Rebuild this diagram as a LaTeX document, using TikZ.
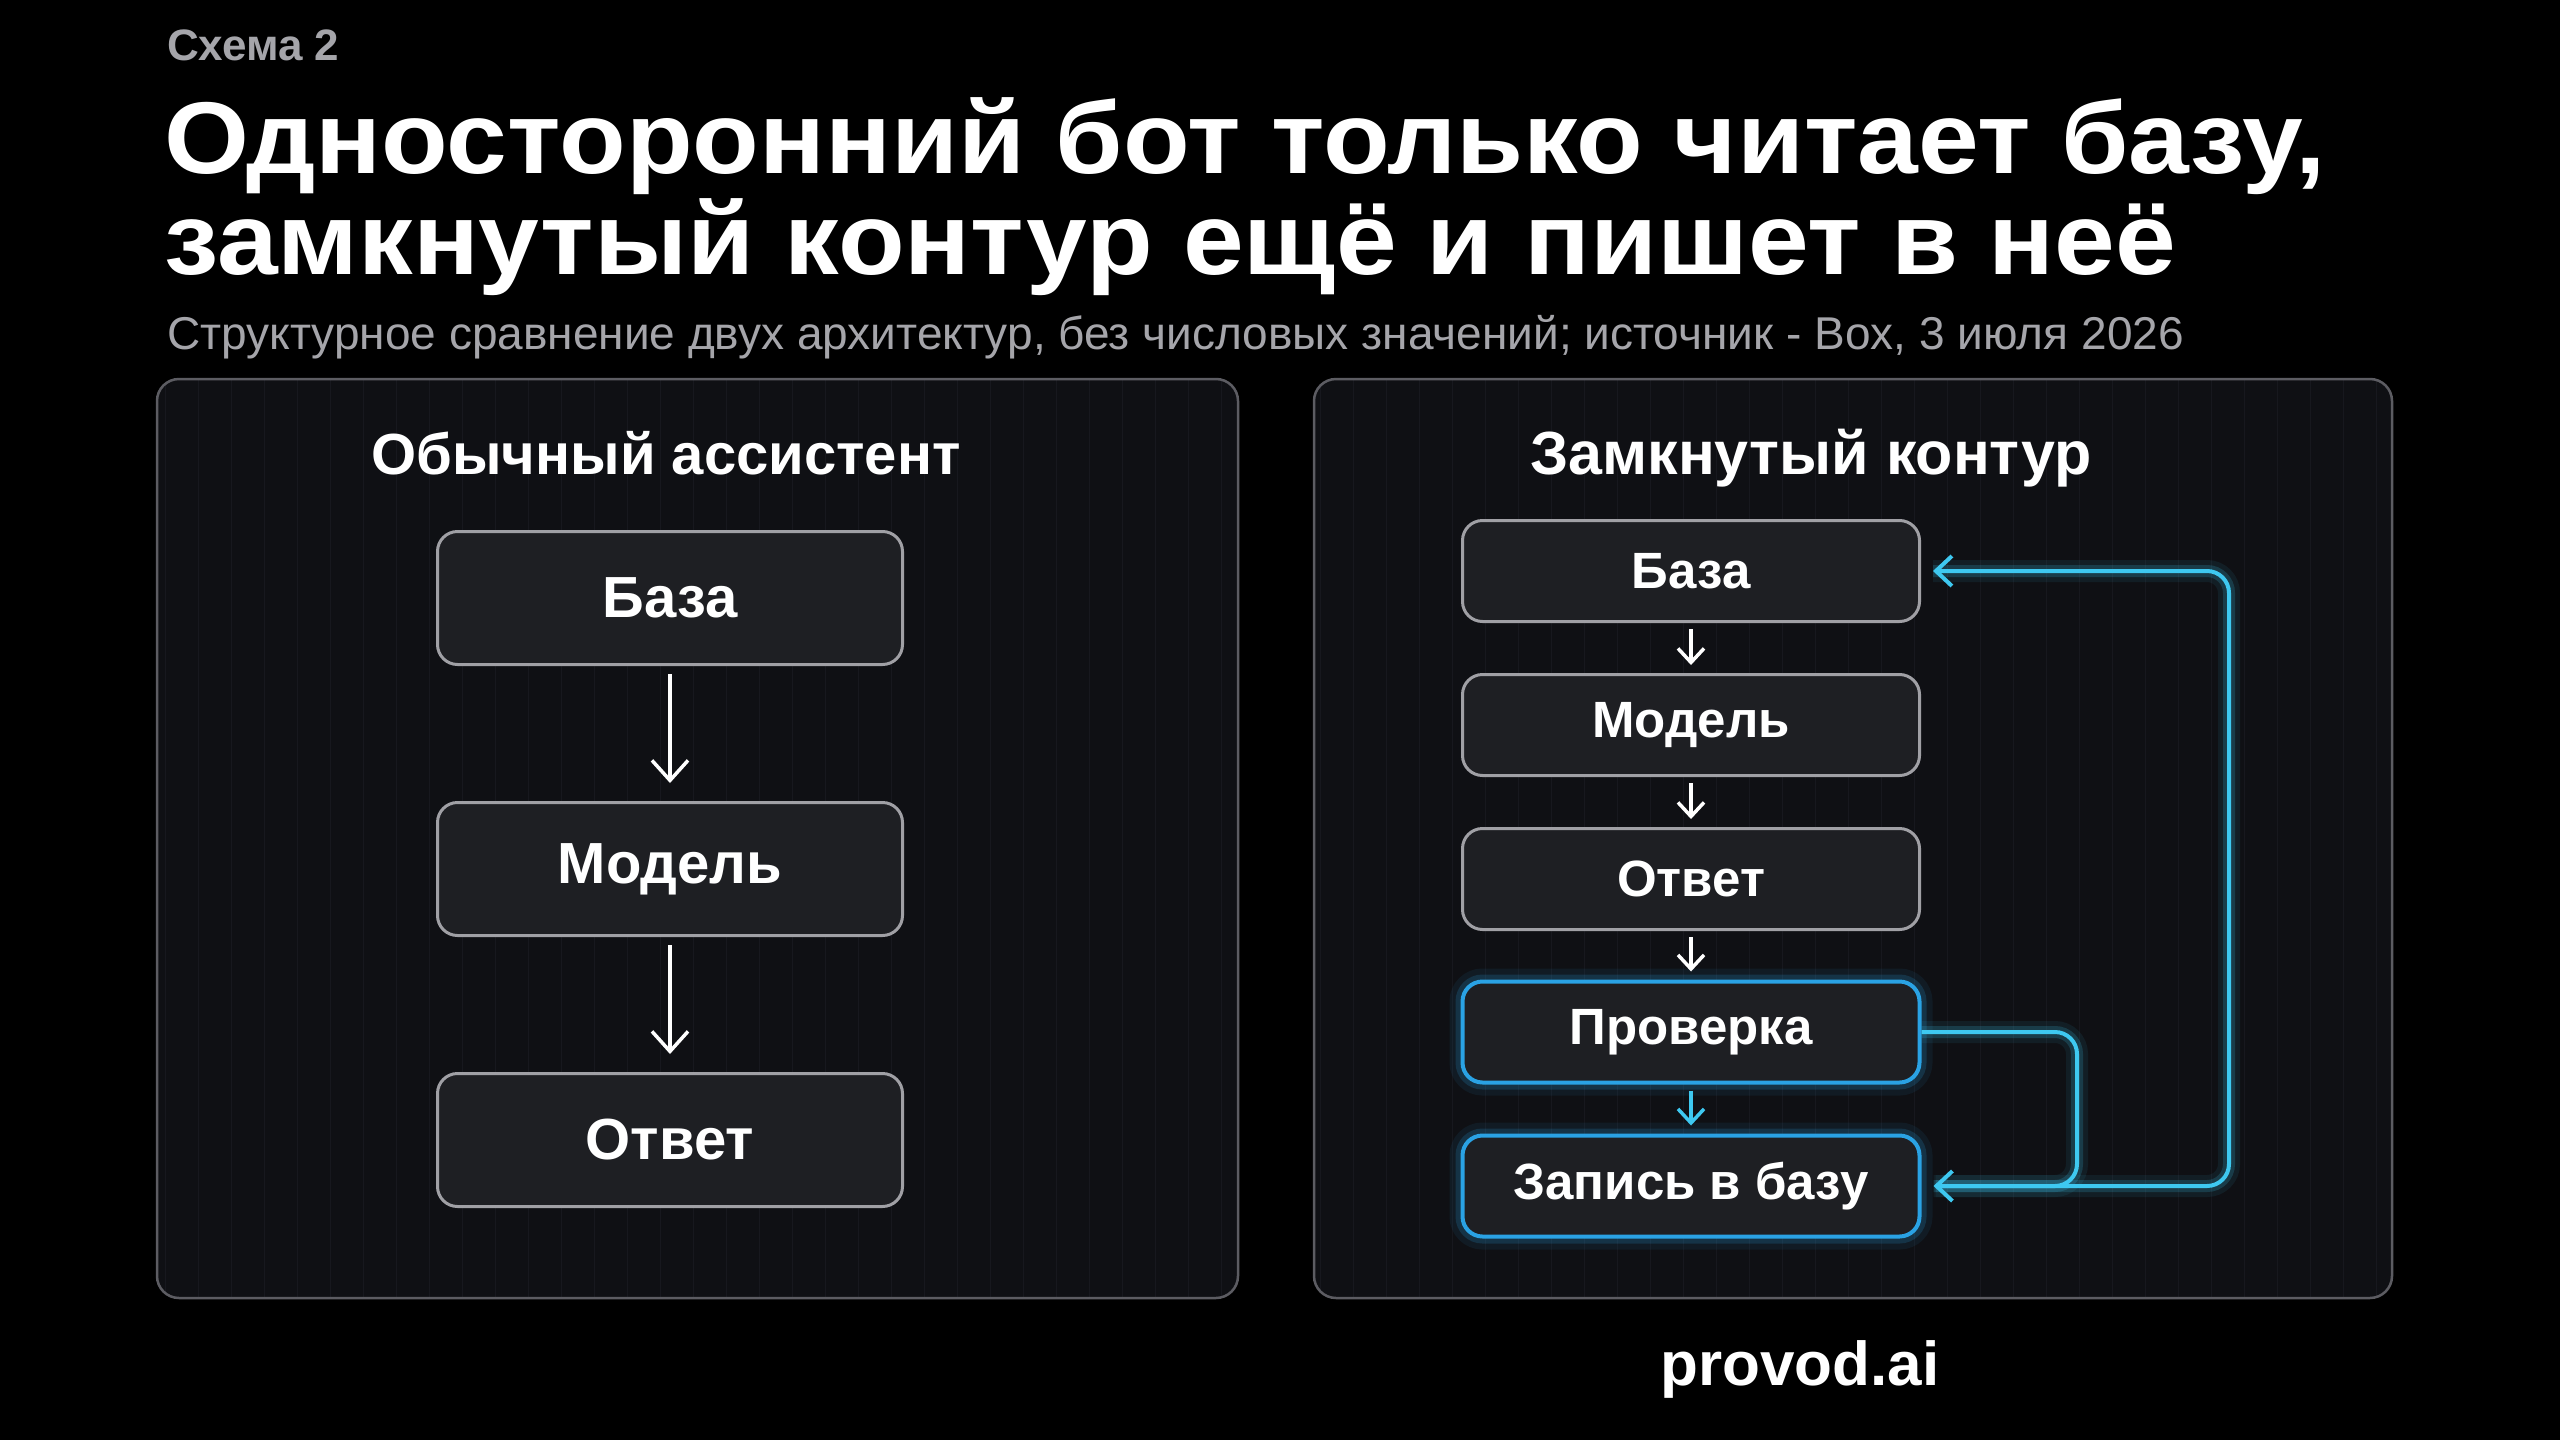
\documentclass[tikz,border=0pt]{standalone}
\usepackage{fontspec}
\setmainfont{Liberation Sans}
\newfontfamily\wideface[FakeStretch=1.07]{Liberation Sans}
\usepackage{tikz}
\usetikzlibrary{arrows.meta,calc,positioning}
\definecolor{fondoPanel}{RGB}{15,16,20}
\definecolor{bordePanel}{RGB}{92,92,98}
\definecolor{rejilla}{RGB}{23,24,30}
\definecolor{fondoCaja}{RGB}{30,31,35}
\definecolor{bordeCaja}{RGB}{160,160,165}
\definecolor{azulNeon}{RGB}{42,162,228}
\definecolor{cianNeon}{RGB}{62,200,240}
\definecolor{grisTexto}{RGB}{165,165,170}
\tikzstyle{heading}=[anchor=base west, inner sep=0pt, text=white,
                     font=\wideface\fontsize{102}{102}\selectfont\bfseries]
\tikzstyle{panel}  =[draw=bordePanel, line width=2.5pt, rounded corners=22pt]
\tikzstyle{box}    =[draw=bordeCaja, fill=fondoCaja, line width=3pt,
                     rounded corners=20pt, text=white,
                     minimum width=465pt, minimum height=133pt,
                     font=\fontsize{58}{58}\selectfont\bfseries]
\tikzstyle{boxsm}  =[box, minimum width=457pt, minimum height=101pt,
                     font=\fontsize{51}{51}\selectfont\bfseries]
\tikzstyle{neon}   =[draw=azulNeon, line width=4pt,
                     preaction={draw=azulNeon, line width=26pt, opacity=0.08},
                     preaction={draw=azulNeon, line width=14pt, opacity=0.18}]
\tikzstyle{edge}   =[white, line width=3.5pt, shorten <=8pt, shorten >=18pt,
                     -{Straight Barb[length=20pt,width=36pt]}]
\tikzstyle{edgesm} =[white, line width=3.5pt, shorten <=6pt, shorten >=8pt,
                     -{Straight Barb[length=14pt,width=26pt]}]
\tikzstyle{loop}   =[cianNeon, line width=4pt, rounded corners=22pt,
                     -{Straight Barb[length=16pt,width=30pt]},
                     preaction={draw=cianNeon, -, line width=22pt, opacity=0.08},
                     preaction={draw=cianNeon, -, line width=12pt, opacity=0.18}]

\begin{document}
\begin{tikzpicture}[x=1pt,y=-1pt]
    \fill[black] (0,0) rectangle (2560,1440);
    \useasboundingbox (0,0) rectangle (2560,1440);

    \draw (167,60) node(kicker)[anchor=base west, inner sep=0pt, text=grisTexto,
          font=\fontsize{44}{44}\selectfont\bfseries]{Схема 2};
    \draw (164,173) node(t1)[heading]{Односторонний бот только читает базу,};
    \draw (164,274) node(t2)[heading]{замкнутый контур ещё и пишет в неё};
    \draw (167,349) node(sub)[anchor=base west, inner sep=0pt, text=grisTexto,
          font=\fontsize{46}{46}\selectfont]{Структурное сравнение двух архитектур, без числовых значений; источник - Box, 3 июля 2026};

    % paneles con rejilla
    \foreach \xa/\xb in {157/1238,1314/2392}{
        \fill[fondoPanel, rounded corners=22pt] (\xa,379) rectangle (\xb,1298);
        \begin{scope}
            \clip[rounded corners=22pt] (\xa,379) rectangle (\xb,1298);
            \draw[rejilla, line width=1pt, step=33] (\xa,379) grid (\xb,1298);
        \end{scope}
        \draw[panel] (\xa,379) rectangle (\xb,1298);
    }

    \begin{scope}
        \draw (666,474) node(h1)[anchor=base, inner sep=0pt, text=white,
              font=\fontsize{58}{58}\selectfont\bfseries]{Обычный ассистент};
        \draw (670,598) node(a1)[box]{База};
        \draw (670,869) node(a2)[box]{Модель};
        \draw (670,1140) node(a3)[box]{Ответ};

        \foreach \i/\j in {a1/a2,a2/a3}
            \draw [edge] (\i) to (\j);
    \end{scope}

    \begin{scope}
        \draw (1811,474) node(h2)[anchor=base, inner sep=0pt, text=white,
              font=\fontsize{61}{61}\selectfont\bfseries]{Замкнутый контур};
        \draw (1691,571) node(b1)[boxsm]{База};
        \draw (1691,725) node(b2)[boxsm]{Модель};
        \draw (1691,879) node(b3)[boxsm]{Ответ};
        \draw (1691,1032) node(b4)[boxsm,neon]{Проверка};
        \draw (1691,1186) node(b5)[boxsm,neon]{Запись в базу};

        \foreach \i/\j in {b1/b2,b2/b3,b3/b4}
            \draw [edgesm] (\i) to (\j);
        \draw [edgesm, cianNeon] (b4) to (b5);

        \coordinate (k1) at (2077,1186);
        \coordinate (k2) at (2229,1186);
        \draw [loop, shorten >=12pt] (b4.east) -| (k1) -- (b5.east);
        \draw [loop, shorten <=14pt, shorten >=12pt] (b5.east) -- (k2) |- (b1.east);
    \end{scope}

    \draw (1800,1385) node(logo)[anchor=base, inner sep=0pt, text=white,
          font=\fontsize{62}{62}\selectfont\bfseries]{provod.ai};
\end{tikzpicture}
\end{document}
